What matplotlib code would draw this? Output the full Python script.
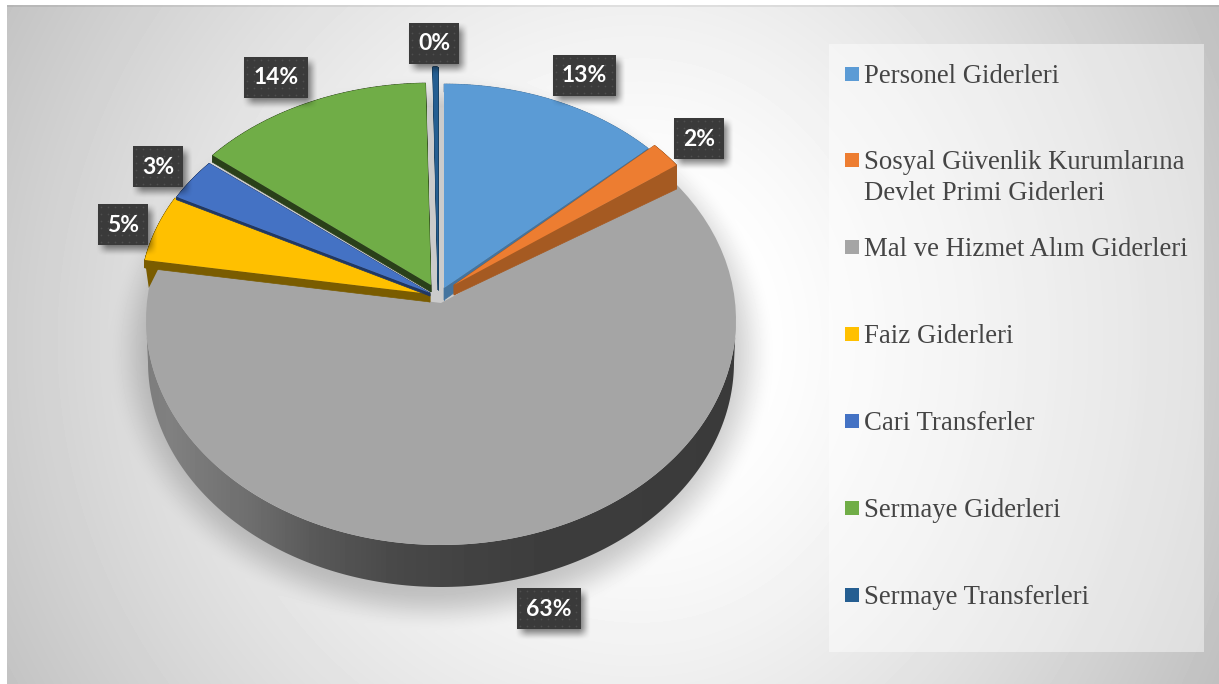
"""
Pie chart of budget expenditure shares, drawn in pixel coordinates
so the tilted look of the slices can be kept.
"""
import numpy as np
import matplotlib
matplotlib.use('Agg')
import matplotlib.pyplot as plt
from matplotlib.patches import Polygon, Rectangle

W, H = 1219, 684

categories = ['Personel Giderleri', 'Sosyal Güvenlik Kurumlarına\nDevlet Primi Giderleri',
              'Mal ve Hizmet Alım Giderleri', 'Faiz Giderleri', 'Cari Transferler',
              'Sermaye Giderleri', 'Sermaye Transferleri']
shares = [13.0, 2.0, 62.9, 5.0, 3.2, 13.6, 0.3]

colors = ['#5b9bd5', '#ed7d31', '#a5a5a5', '#ffc000', '#4472c4', '#70ad47', '#255e91']
wall_colors = ['#44749f', '#a55a22', '#7b7b7b', '#7a5c00', '#203864', '#2a4019', '#1a4366']

# slice geometry: apex, rim centre, radii, wall depth at apex and rim, overlap under neighbours
apex_x = [444, 454, 441, 430, 430, 431, 438]
apex_y = [288, 285, 303, 294, 293, 285, 285]
rim_y = [288, 285, 320, 298, 293, 285, 285]
rim_rx = [280, 275, 295, 290, 288, 285, 280]
rim_ry = [204, 204, 225, 210, 202, 202, 218]
depth = [12, 10, 0, 8, 3, 7, 5]
rim_depth = [8, 24, 0, 8, 3, 7, 5]
overlap = [0, 0, 3, 0, 0, 0, 0]

# label boxes (left, top, width)
box_x = [553, 674, 517, 98, 133, 244, 409]
box_y = [55, 118, 588, 204, 146, 57, 23]
box_w = [63, 50, 64, 50, 50, 64, 50]
BOX_H = 41

legend_y = [74, 160, 247, 334, 421, 508, 595]
LINE_GAP = 31


def smooth(v):
    v = np.clip(v, 0, 1)
    return v * v * (3 - 2 * v)


def background():
    """Radial grey backdrop with the soft shadow of the pie."""
    yy, xx = np.mgrid[0:H, 0:W]
    dx = np.where(xx > 640, (xx - 640) * 1.15, xx - 640)
    r = np.hypot(dx, yy - 340)
    shade = 255 - 60 * np.clip((r - 120) / 600, 0, 1.1) ** 1.3
    dist = np.hypot((xx - 441) / 335.0, (yy - 352) / 280.0)
    shade = shade * (1 - 0.2 * smooth((1 - dist) / 0.16))
    return shade


def slice_points(i, start, end):
    """Outline of one slice, angles measured clockwise from the top."""
    t = np.radians(np.linspace(start - overlap[i], end + overlap[i], 80))
    x = apex_x[i] + rim_rx[i] * np.sin(t)
    y = rim_y[i] - rim_ry[i] * np.cos(t)
    return np.r_[apex_x[i], x], np.r_[apex_y[i], y]


def soft_box(ax, x0, y0, w, h, blur=7, alpha=0.5):
    yy, xx = np.mgrid[y0 - blur * 2:y0 + h + blur * 2, x0 - blur * 2:x0 + w + blur * 2]
    a = smooth((xx - x0 + blur) / (2 * blur)) * smooth((x0 + w + blur - xx) / (2 * blur))
    a = a * smooth((yy - y0 + blur) / (2 * blur)) * smooth((y0 + h + blur - yy) / (2 * blur))
    rgba = np.zeros(a.shape + (4,))
    rgba[..., 3] = a * alpha
    ax.imshow(rgba, extent=(xx.min(), xx.max(), yy.max(), yy.min()), aspect='auto', zorder=8)


fig = plt.figure(figsize=(W / 100, H / 100), dpi=100)
ax = fig.add_axes([0, 0, 1, 1])

ax.imshow(background(), cmap='gray', vmin=0, vmax=255, extent=(0, W, H, 0),
          aspect='auto', zorder=0)

# white margin of the slide
ax.add_patch(Rectangle((0, 0), 7, H, fc='white', ec='none', zorder=1))
ax.add_patch(Rectangle((0, 0), W, 5, fc='white', ec='none', zorder=1))
ax.add_patch(Rectangle((7, 5), W, 2, fc='black', ec='none', alpha=0.07, zorder=1))

# legend panel
ax.add_patch(Rectangle((829, 44), 375, 608, fc='white', ec='none', alpha=0.45, zorder=1))

# shadow showing through the gaps at the top
t = np.linspace(0, 2 * np.pi, 200)
ax.fill(441 + 288 * np.sin(t), 327 + 220 * np.cos(t), color='#cbcbcb', lw=0, zorder=2)

edges = np.r_[0, np.cumsum(shares)] / np.sum(shares) * 360

# side of the big slice
t = np.radians(np.linspace(90, 270, 200))
wall_x = np.r_[441 + 295 * np.sin(t), (441 + 293 * np.sin(t))[::-1]]
wall_y = np.r_[320 - 225 * np.cos(t), (362 - 225 * np.cos(t))[::-1]]
grad_x = np.arange(140, 745)
grad = np.interp(grad_x, [146, 170, 250, 317, 400, 520, 737], [125, 128, 110, 88, 72, 62, 58])
wall_img = ax.imshow(grad[None, :], cmap='gray', vmin=0, vmax=255,
                     extent=(140, 745, 600, 300), aspect='auto', zorder=3)
wall_patch = Polygon(np.c_[wall_x, wall_y], transform=ax.transData, fc='none', ec='none')
ax.add_patch(wall_patch)
wall_img.set_clip_path(wall_patch)

order = [2, 3, 4, 5, 0, 1, 6]
for i in order:
    x, y = slice_points(i, edges[i], edges[i + 1])
    z = 4 + order.index(i) * 0.1
    if depth[i]:
        d = np.r_[depth[i], np.full(len(x) - 1, rim_depth[i])]
        for k in range(len(x)):
            n = (k + 1) % len(x)
            ax.fill([x[k], x[n], x[n], x[k]],
                    [y[k], y[n], y[n] + d[n], y[k] + d[k]],
                    color=wall_colors[i], lw=0.5, zorder=z)
    ax.fill(x, y, color=colors[i], lw=0, zorder=z + 0.01)

# yellow slice hangs over the rim of the big one
x, y = slice_points(3, edges[3], edges[4])
ax.fill([x[1], x[1] + 4, x[1] + 14], [y[1], y[1] + 28, y[1] + 8],
        color=wall_colors[3], lw=0, zorder=4.05)

# data labels
for i, val in enumerate(shares):
    soft_box(ax, box_x[i] + 4, box_y[i] + 5, box_w[i], BOX_H)
    ax.add_patch(Rectangle((box_x[i], box_y[i]), box_w[i], BOX_H, fc='#3a3a3a',
                           ec='none', zorder=9))
    dot_x = np.arange(box_x[i] + 3, box_x[i] + box_w[i], 7)
    dot_y = np.arange(box_y[i] + 3, box_y[i] + BOX_H, 7)
    gx, gy = np.meshgrid(dot_x, dot_y)
    ax.scatter(gx.ravel(), gy.ravel(), s=1.6, color='#4f4f4f', lw=0, zorder=9.5)
    ax.text(box_x[i] + box_w[i] / 2, box_y[i] + BOX_H / 2 + 0.5, '{}%'.format(round(val)),
            color='white', fontsize=16.5, fontweight='bold', family='Lato',
            ha='center', va='center', zorder=10)

# legend
for i, name in enumerate(categories):
    ax.add_patch(Rectangle((845, legend_y[i] - 7), 14, 14, fc=colors[i], ec='none', zorder=5))
    for j, line in enumerate(name.split('\n')):
        ax.text(864, legend_y[i] + 9 + j * LINE_GAP, line, color='#454545', fontsize=19.3,
                family='Liberation Serif', ha='left', va='baseline', zorder=5)

ax.set_xlim(0, W)
ax.set_ylim(H, 0)
ax.axis('off')
fig.savefig('out.png', dpi=100)
plt.close(fig)
